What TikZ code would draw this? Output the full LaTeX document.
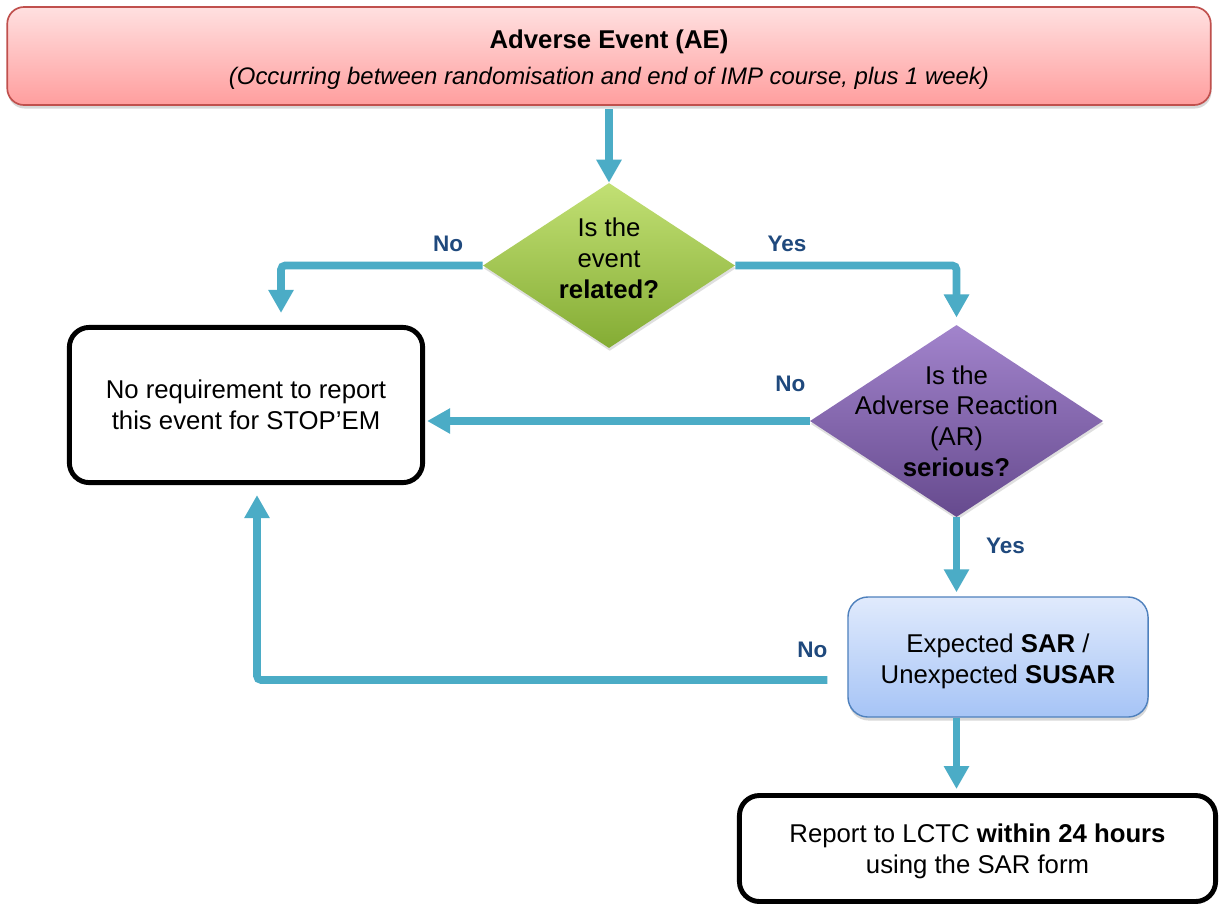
\documentclass[tikz,border=0pt]{standalone}
\usepackage{fontspec}
\setmainfont{Liberation Sans}
\usepackage{tikz}
\usetikzlibrary{shapes.geometric, arrows.meta, shadows, positioning}
\definecolor{flowTeal}{RGB}{75,172,198}
\definecolor{answerBlue}{RGB}{31,73,125}
\definecolor{aeTop}{RGB}{255,224,224}
\definecolor{aeBottom}{RGB}{255,158,158}
\definecolor{aeLine}{RGB}{192,80,77}
\definecolor{relTop}{RGB}{194,224,116}
\definecolor{relBottom}{RGB}{132,172,52}
\definecolor{serTop}{RGB}{162,132,204}
\definecolor{serBottom}{RGB}{102,74,142}
\definecolor{sarTop}{RGB}{224,234,252}
\definecolor{sarBottom}{RGB}{166,196,246}
\definecolor{sarLine}{RGB}{79,129,189}
\newcommand{\flowfont}{\fontsize{18.3}{21.8}\selectfont}
\newcommand{\topstrut}[1]{\rule{0pt}{#1}}
\tikzstyle{aeBox} = [rectangle, rounded corners=0.42cm, minimum width=30.08cm, minimum height=2.45cm, draw=aeLine, line width=1.2pt, top color=aeTop, bottom color=aeBottom, align=center, font=\flowfont, drop shadow={shadow xshift=0.5pt, shadow yshift=-2.5pt, opacity=0.3}]
\tikzstyle{endBox} = [rectangle, rounded corners=0.5cm, draw=black, line width=3.5pt, fill=white, align=center, font=\flowfont]
\tikzstyle{sarBox} = [rectangle, rounded corners=0.5cm, minimum width=7.5cm, minimum height=3cm, draw=sarLine, line width=1pt, top color=sarTop, bottom color=sarBottom, align=center, font=\flowfont, drop shadow={shadow xshift=0.5pt, shadow yshift=-2.5pt, opacity=0.3}]
\tikzstyle{decision} = [diamond, inner sep=0pt, drop shadow={shadow xshift=0.5pt, shadow yshift=-2pt, opacity=0.25}]
\tikzstyle{decisionText} = [align=center, font=\flowfont, inner sep=0pt]
\tikzstyle{flowArrow} = [draw=flowTeal, line width=0.19cm, -{Triangle[length=0.575cm, width=0.6cm]}, rounded corners=0.1cm, shorten >=0.1cm]
\tikzstyle{answer} = [font=\fontsize{16}{19}\selectfont\bfseries, text=answerBlue]

\begin{document}
\begin{tikzpicture}[x=0.025cm, y=-0.025cm]
\useasboundingbox[fill=white] (0,0) rectangle (1222,904);
% event and questions
\node (ae) [aeBox] at (609,56) {\topstrut{19pt}\textbf{Adverse Event (AE)}\\[3.7pt]{\fontsize{17}{21.8}\selectfont\itshape (Occurring between randomisation and end of IMP course, plus 1 week)}};
\node (related) [decision, minimum width=6.3cm, minimum height=4.125cm, top color=relTop, bottom color=relBottom] at (609,265.5) {};
\node [decisionText, yshift=0.18cm] at (related) {Is the\\event\\\textbf{related?}};
\node (serious) [decision, minimum width=7.325cm, minimum height=4.8cm, top color=serTop, bottom color=serBottom] at (956.5,421) {};
\node [decisionText] at (serious) {Is the\\Adverse Reaction\\(AR)\\\textbf{serious?}};
% outcomes
\node (noreport) [endBox, minimum width=8.83cm, minimum height=3.88cm] at (246,405) {No requirement to report\\this event for STOP’EM};
\node (sar) [sarBox] at (998,657) {\topstrut{19pt}Expected \textbf{SAR} /\\Unexpected \textbf{SUSAR}};
\node (report) [endBox, minimum width=11.9cm, minimum height=2.65cm] at (977.5,848.5) {\topstrut{17.5pt}Report to LCTC \textbf{within 24 hours}\\using the SAR form};
% connectors
\draw [flowArrow, shorten <=0.08cm, shorten >=0pt] (ae.south) -- (related.north);
\draw [flowArrow, shorten >=0.3cm] (related.west) -| node[answer, pos=0.086, yshift=0.54cm] {No} ([xshift=0.875cm]noreport.north);
\draw [flowArrow, shorten >=0.18cm] (related.east) -| node[answer, pos=0.117, yshift=0.54cm] {Yes} (serious.north);
\draw [flowArrow, shorten >=0.05cm] (serious.west) -- node[answer, pos=0.05, yshift=0.93cm] {No} (serious.west -| noreport.east);
\draw [flowArrow] (serious.south) -- node[answer, pos=0.36, xshift=1.225cm] {Yes} (serious.south |- sar.north);
\draw [flowArrow] (sar.south -| serious.south) -- (report.north -| serious.south);
\draw [flowArrow, shorten >=0.25cm] ([xshift=-0.5cm, yshift=-0.575cm]sar.west) -| node[answer, pos=0.013, yshift=0.75cm] {No} ([xshift=0.275cm]noreport.south);
\end{tikzpicture}
\end{document}
